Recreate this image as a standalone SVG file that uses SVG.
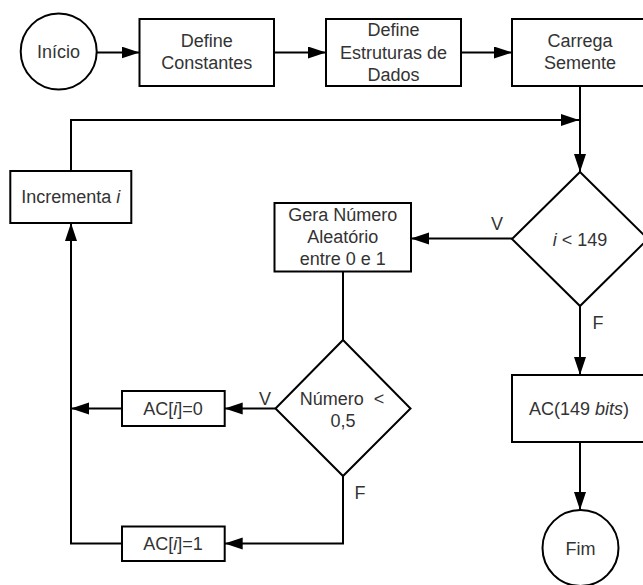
<svg xmlns="http://www.w3.org/2000/svg" width="643" height="585" viewBox="0 0 643 585">
<defs>
<marker id="arr" markerUnits="userSpaceOnUse" markerWidth="20" markerHeight="14" refX="18" refY="6" orient="auto">
<path d="M0,0 L18,6 L0,12 z" fill="#000"/>
</marker>
<style>
.s{fill:#fff;stroke:#000;stroke-width:2}
.t{font-family:"Liberation Sans",Arial,sans-serif;font-size:18px;fill:#333;text-anchor:middle}
.c{fill:none;stroke:#000;stroke-width:2}
.a{marker-end:url(#arr)}
</style>
</defs>
<rect width="643" height="585" fill="#fff"/>
<g id="connectors">
<path class="c a" d="M96.7,52.5 H139.5"/>
<path class="c a" d="M274,52.5 H326"/>
<path class="c a" d="M461,52.5 H512"/>
<path class="c a" d="M580,86 V172"/>
<path class="c a" d="M71,171 V120 H579"/>
<path class="c a" d="M512,238.5 H411"/>
<path class="c a" d="M580,306 V375"/>
<path class="c a" d="M580,442 V510"/>
<path class="c" d="M343,271.5 V340"/>
<path class="c a" d="M275.5,408.5 H224.7"/>
<path class="c a" d="M122,408.5 H71"/>
<path class="c a" d="M343,476 V543.5 H224.7"/>
<path class="c a" d="M122,543.5 H71 V223"/>
<text class="t" x="497" y="230">V</text>
<text class="t" x="598" y="329">F</text>
<text class="t" x="265" y="405">V</text>
<text class="t" x="360" y="499">F</text>
</g>
<g id="inicio">
<circle class="s" cx="58.7" cy="51.5" r="38"/>
<text class="t" x="58.5" y="58">Início</text>
</g>
<g id="define-constantes">
<rect class="s" x="139.5" y="19" width="134.5" height="67"/>
<text class="t" x="206.7" y="47">Define</text>
<text class="t" x="206.7" y="69">Constantes</text>
</g>
<g id="define-estruturas">
<rect class="s" x="326" y="19" width="135" height="67"/>
<text class="t" x="393.5" y="36">Define</text>
<text class="t" x="393.5" y="58.5">Estruturas de</text>
<text class="t" x="393.5" y="81">Dados</text>
</g>
<g id="carrega-semente">
<rect class="s" x="512" y="19" width="136" height="67"/>
<text class="t" x="580" y="47">Carrega</text>
<text class="t" x="580" y="69">Semente</text>
</g>
<g id="incrementa">
<rect class="s" x="10.3" y="171" width="121" height="52"/>
<text class="t" x="70.8" y="203">Incrementa <tspan font-style="italic">i</tspan></text>
</g>
<g id="cond-i">
<polygon class="s" points="580,172 648,239 580,306 512,239"/>
<text class="t" x="580" y="246"><tspan font-style="italic">i</tspan> &lt; 149</text>
</g>
<g id="gera-numero">
<rect class="s" x="274.5" y="203" width="136.5" height="68.5"/>
<text class="t" x="342.8" y="221">Gera Número</text>
<text class="t" x="342.8" y="243">Aleatório</text>
<text class="t" x="342.8" y="265">entre 0 e 1</text>
</g>
<g id="cond-numero">
<polygon class="s" points="343,340 410.5,408.5 343,476 275.5,408.5"/>
<text class="t" x="342" y="405" xml:space="preserve">Número  &lt;</text>
<text class="t" x="343" y="427">0,5</text>
</g>
<g id="ac-0">
<rect class="s" x="122" y="391" width="102.7" height="35"/>
<text class="t" x="173" y="415">AC[<tspan font-style="italic">i</tspan>]=0</text>
</g>
<g id="ac-1">
<rect class="s" x="122" y="526.5" width="102.7" height="34.5"/>
<text class="t" x="173" y="550">AC[<tspan font-style="italic">i</tspan>]=1</text>
</g>
<g id="ac-149">
<rect class="s" x="512" y="375" width="136" height="67"/>
<text class="t" x="579" y="415">AC(149 <tspan font-style="italic">bits</tspan>)</text>
</g>
<g id="fim">
<circle class="s" cx="580.5" cy="548" r="38"/>
<text class="t" x="580.5" y="554.5">Fim</text>
</g>
</svg>
